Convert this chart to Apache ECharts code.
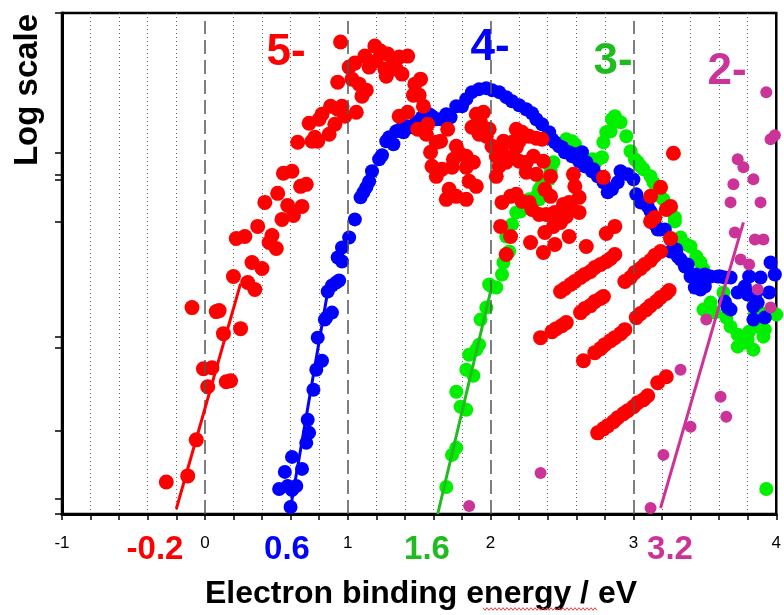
<!DOCTYPE html>
<html><head><meta charset="utf-8">
<script src="https://cdn.jsdelivr.net/npm/echarts@6/dist/echarts.min.js"></script>
<style>html,body{margin:0;padding:0;background:#fff}#c{width:784px;height:615px}</style>
</head><body><div id="c"></div>
<script>
// x: electron binding energy (eV); y: log10 intensity (arbitrary units, axis unlabelled)
const xTickLabels = ['-1','0','1','2','3','4'];
const yTickValues = [0, 0.15, 0.83, 1.66, 1.77, 2.92, 3.34, 3.39, 3.61, 5];
const integerGrid = [0, 1, 2, 3];

const red5 = [
[-0.27,0.32],[-0.12,0.38],[-0.06,0.74],[0.02,1.27],[-0.01,1.45],[0.05,1.46],[0.15,1.32],[0.18,1.33],[0.13,1.80],[0.25,1.85],[-0.09,2.06],[0.08,2.02],[0.10,2.03],[0.20,2.37],[0.30,2.31],[0.35,2.24],[0.33,2.51],[0.40,2.45],[0.22,2.75],[0.28,2.77],[0.37,2.87],[0.45,2.71],[0.47,2.78],[0.50,2.65],[0.42,3.11],[0.54,2.94],[0.51,3.20],[0.58,3.08],[0.62,2.98],[0.55,3.40],[0.61,3.42],[0.67,3.27],[0.71,3.29],[0.68,3.07],
[0.65,3.71],[0.73,3.90],[0.75,3.72],[0.77,3.76],[0.79,3.72],[0.80,3.94],[0.82,3.99],[0.88,4.07],[0.87,3.79],[0.91,3.89],[0.98,3.97],[1.06,4.01],[0.93,4.04],[0.96,4.07],[0.93,4.31],[1.03,4.34],[1.08,4.29],[1.13,4.23],[1.10,4.17],[0.95,4.71],[1.01,4.46],[1.05,4.50],[1.12,4.57],[1.19,4.67],[1.23,4.62],[1.28,4.59],[1.15,4.46],[1.20,4.52],[1.26,4.44],[1.27,4.37],[1.32,4.52],[1.36,4.56],[1.42,4.57],[1.38,4.39],[1.34,4.44],[1.47,4.29],[1.51,4.34],[1.46,4.18],[1.50,4.18],[1.53,4.07],
[1.36,3.97],[1.42,4.01],[1.49,3.84],[1.56,3.89],[1.55,3.79],[1.70,3.84],[1.62,3.71],[1.65,3.72],[1.58,3.61],[1.76,3.67],[1.79,3.59],[1.74,3.54],[1.83,3.57],[1.88,3.51],[1.83,3.46],[1.59,3.47],[1.62,3.37],[1.66,3.44],[1.73,3.46],[1.85,3.32],[1.90,3.27],[1.71,3.24],[1.69,3.14],[1.76,3.17],[1.83,3.14],
[1.90,3.99],[1.95,4.01],[1.93,3.91],[1.99,3.84],[1.87,3.86],[1.92,3.79],[1.97,3.77],[2.01,3.67],[2.04,3.57],[2.08,3.61],[2.06,3.47],[2.11,3.51],[2.04,3.37],[2.09,3.72],[2.15,3.71],[2.18,3.66],[2.15,3.56],[2.18,3.84],[2.22,3.81],[2.27,3.77],[2.32,3.75],[2.20,3.72],[2.20,3.52],[2.25,3.51],[2.30,3.57],[2.37,3.52],[2.32,3.39],[2.25,3.41],[2.42,3.37],[2.36,3.74],
[2.08,3.11],[2.14,3.17],[2.18,3.19],[2.22,3.12],[2.27,3.11],[2.29,3.04],[2.34,2.99],[2.07,2.87],[2.14,2.77],[2.11,2.59],[2.28,2.71],[2.37,2.61],[2.38,2.81],[2.45,2.69],[2.38,3.24],[2.42,3.17],[2.39,2.99],[2.45,3.01],[2.49,2.91],[2.53,2.97],[2.57,3.04],[2.62,3.01],[2.58,3.39],[2.59,3.27],[2.62,3.16],[2.55,3.11],[2.51,3.09],[2.55,2.77],[2.67,2.67],[2.79,3.36],[2.81,2.80],[2.87,2.87],[2.44,2.87],
[3.28,3.60],[3.19,3.26],[3.12,3.17],[3.26,3.07],[3.23,3.04],[3.15,2.96],[3.12,2.92],[3.26,2.75]
];
const red5Bands = [
[2.49,2.22],[2.52,2.25],[2.56,2.29],[2.59,2.32],[2.63,2.36],[2.66,2.39],[2.70,2.42],[2.73,2.46],[2.77,2.49],[2.81,2.52],[2.84,2.55],[2.87,2.59],
[2.94,2.32],[2.98,2.36],[3.01,2.41],[3.05,2.45],[3.08,2.49],[3.12,2.53],[3.15,2.58],[3.19,2.62],
[2.35,1.76],[2.43,1.82],[2.46,1.85],[2.50,1.88],[2.53,1.91],[2.63,2.01],[2.66,2.05],[2.70,2.08],[2.73,2.12],[2.77,2.15],[2.79,2.17],
[3.02,1.96],[3.05,2.00],[3.09,2.04],[3.12,2.08],[3.16,2.12],[3.19,2.16],[3.23,2.20],[3.25,2.23],
[2.65,1.53],[2.73,1.61],[2.77,1.65],[2.80,1.69],[2.84,1.73],[2.87,1.76],[2.91,1.80],[2.94,1.84],
[2.75,0.81],[2.79,0.85],[2.82,0.88],[2.86,0.92],[2.89,0.96],[2.93,1.00],[2.96,1.03],[3.00,1.07],[3.03,1.11],[3.07,1.14],[3.10,1.18],[3.17,1.31],[3.23,1.37]
];
const blue4 = [
[0.60,0.07],[0.52,0.25],[0.58,0.28],[0.64,0.28],[0.61,0.24],[0.56,0.42],[0.68,0.45],[0.61,0.57],[0.73,0.81],[0.71,0.71],[0.72,0.94],[0.76,1.24],[0.78,1.44],[0.82,1.53],[0.79,1.76],[0.85,1.96],[0.89,2.01],[0.84,1.94],[0.86,2.22],[0.89,2.28],[0.94,2.33],[0.92,2.31],[0.96,2.52],[0.93,2.56],[0.96,2.66],[1.01,2.76],[1.05,2.94],[1.09,3.16],[1.11,3.21],[1.13,3.26],[1.15,3.32],[1.17,3.42],[1.22,3.54],[1.24,3.58],[1.27,3.72],[1.29,3.76],[1.32,3.69],[1.34,3.82],[1.37,3.84],[1.41,3.87],[1.39,3.81],[1.44,3.86],[1.48,3.91],[1.52,3.96],[1.57,3.99],[1.59,3.97],[1.62,3.94],[1.65,3.94],[1.69,3.99],[1.72,3.96],[1.76,4.07],[1.80,4.07],[1.83,4.14],[1.87,4.21],[1.92,4.24],[1.97,4.25],[2.01,4.23],[2.06,4.21],[2.11,4.16],[2.15,4.12],[2.20,4.08],[2.25,4.04],[2.29,4.00],[2.32,3.94],[2.36,3.89],[2.41,3.81],[2.43,3.74],[2.45,3.71],[2.48,3.67],[2.50,3.66],[2.52,3.61],[2.55,3.61],[2.57,3.57],[2.59,3.59],[2.62,3.52],[2.64,3.61],[2.66,3.47],[2.67,3.51],[2.71,3.42],[2.72,3.44],[2.75,3.37],[2.79,3.31],[2.82,3.21],[2.85,3.24],[2.89,3.31],[2.91,3.42],[2.96,3.39],[3.00,3.34],[3.02,3.19],[3.05,3.11],[3.10,3.07],[3.12,3.02],[3.15,2.89],[3.17,2.84],[3.19,2.84],[3.22,2.84],[3.26,2.74],[3.26,2.62],[3.30,2.64],[3.31,2.57],[3.33,2.54],[3.36,2.47],[3.38,2.49],[3.40,2.37],[3.44,2.39],[3.45,2.34],[3.47,2.24],[3.50,2.39],[3.52,2.36],[3.54,2.37],[3.59,2.37],[3.61,2.37],[3.64,2.36],[3.68,2.36],[3.43,2.26],[3.50,2.27],[3.64,2.12],[3.66,2.06],[3.68,2.04],[3.73,2.21],[3.78,2.27],[3.80,2.19],[3.84,2.07],[3.81,2.37],[3.89,2.36],[3.96,2.51],[3.99,2.39],[3.95,2.21],[3.86,2.21],[3.87,2.11],[3.84,1.94],[3.92,1.96]
];
const green3 = [
[1.69,0.27],[1.73,0.59],[1.76,0.66],[1.79,1.07],[1.83,1.04],[1.76,1.22],[1.83,1.44],[1.88,1.38],[1.85,1.59],[1.90,1.64],[1.92,1.69],[1.93,1.94],[1.97,2.06],[1.99,2.29],[2.01,2.27],[2.04,2.26],[2.08,2.39],[2.09,2.51],[2.13,2.62],[2.11,2.77],[2.15,2.89],[2.18,3.01],[2.21,3.02],[2.27,3.14],[2.32,3.17],[2.34,3.24],[2.36,3.29],[2.41,3.34],[2.42,3.42],[2.44,3.51],[2.52,3.71],[2.57,3.72],[2.59,3.69],[2.53,3.74],[2.71,3.54],[2.74,3.52],[2.78,3.56],[2.79,3.71],[2.81,3.81],[2.84,3.82],[2.85,3.94],[2.87,3.97],[2.91,3.91],[2.95,3.77],[2.98,3.62],[3.01,3.54],[3.03,3.51],[3.05,3.47],[3.07,3.44],[3.12,3.37],[3.14,3.31],[3.16,3.26],[3.19,3.17],[3.21,3.14],[3.26,3.04],[3.29,2.96],[3.29,2.92],[3.33,2.76],[3.37,2.69],[3.40,2.67],[3.44,2.57],[3.47,2.51],[3.49,2.44],[3.54,2.11],[3.49,2.04],[3.57,2.01],[3.65,1.96],[3.68,1.87],[3.73,1.79],[3.73,1.67],[3.78,1.71],[3.80,1.74],[3.84,1.64],[3.81,1.82],[3.87,1.87],[3.91,1.77],[3.92,1.84],[3.85,1.99],[3.89,2.01],[4.00,1.99],[3.63,2.21],[3.93,0.25],[2.34,3.14]
];
const magenta2 = [
[3.93,4.21],[3.96,3.74],[3.99,3.78],[3.73,3.54],[3.77,3.46],[3.84,3.34],[3.70,3.29],[3.68,3.11],[3.89,3.11],[3.71,2.81],[3.85,2.74],[3.91,2.74],[3.75,2.54],[3.81,2.49],[3.87,2.24],[3.96,2.06],[3.51,1.94],[3.33,1.44],[3.61,1.17],[3.65,0.97],[3.40,0.87],[3.21,0.59],[3.12,0.06],[2.35,0.41],[1.85,0.08]
];
const fitRed = [[-0.20,0.05],[0.25,2.30]];
const fitBlue = [[0.60,0.06],[0.86,2.22]];
const fitGreen = [[1.63,0.00],[2.00,2.22]];
const fitMagenta = [[3.19,0.06],[3.77,2.91]];
const onsetLabels = ['-0.2','0.6','1.6','3.2'];
const chargeLabels = ['5-','4-','3-','2-'];

const FONT = '"Liberation Sans", Arial, sans-serif';
const C_RED = '#ff0000', C_BLUE = '#0000ff', C_GREEN = '#00f000', C_GREEN_D = '#1fbb1f', C_MAG = '#cc3399';

const chart = echarts.init(document.getElementById('c'), null, {renderer: 'canvas'});

function txt(text, x, y, color, size, extra, weight) {
  return Object.assign({
    type: 'text', x: x, y: y, z: 100,
    style: {text: text, x: 0, y: 0, fill: color, font: (weight || 'bold') + ' ' + size + 'px ' + FONT,
            align: 'center', verticalAlign: 'middle', textAlign: 'center', textVerticalAlign: 'middle'}
  }, extra || {});
}
// wavy spell-check underline (decoration)
const wave = [];
let k = 0;
for (let px = 483; px <= 598; px += 2, k++) wave.push([px, 609 + (k % 2 === 0 ? -1.3 : 1.3)]);

const option = {
  animation: false,
  backgroundColor: '#fff',
  grid: {left: 62, right: 5, top: 13, bottom: 101, show: true, borderColor: '#000', borderWidth: 2.5},
  xAxis: {
    type: 'value', min: -1, max: 4, interval: 1,
    axisLine: {onZero: false, lineStyle: {color: '#000', width: 3}},
    axisTick: {show: true, length: 6, lineStyle: {color: '#000', width: 1.5}},
    minorTick: {show: true, splitNumber: 5, length: 6, lineStyle: {color: '#000', width: 1.5}},
    axisLabel: {color: '#000', fontSize: 17, margin: 21, fontFamily: FONT,
      formatter: function (v) { const i = Math.round(v + 1); return xTickLabels[i] !== undefined ? xTickLabels[i] : ''; }},
    splitLine: {show: false},
    minorSplitLine: {show: true, lineStyle: {color: '#666', type: [1, 3], width: 1}}
  },
  yAxis: {
    type: 'value', min: 0, max: 5,
    axisLine: {onZero: false, lineStyle: {color: '#000', width: 3}},
    axisTick: {show: true, length: 7, customValues: yTickValues, lineStyle: {color: '#000', width: 1.5}},
    axisLabel: {show: false},
    splitLine: {show: false}
  },
  series: [
    {type: 'scatter', data: [], silent: true, z: 1,
     markLine: {silent: true, symbol: 'none', label: {show: false},
       lineStyle: {color: '#555', type: [14, 6], width: 1.5},
       data: integerGrid.map(v => [{coord: [v, 0]}, {coord: [v, 4.92]}])}},
    {name: '3-', type: 'scatter', data: green3, symbolSize: 14, itemStyle: {color: C_GREEN, opacity: 1}, z: 2},
    {name: '4-', type: 'scatter', data: blue4, symbolSize: 14, itemStyle: {color: C_BLUE, opacity: 1}, z: 3},
    {name: '5-', type: 'scatter', data: red5.concat(red5Bands), symbolSize: 15, itemStyle: {color: C_RED, opacity: 1}, z: 4},
    {name: '2-', type: 'scatter', data: magenta2, symbolSize: 12, itemStyle: {color: C_MAG, opacity: 1}, z: 5},
    {type: 'line', data: fitRed, showSymbol: false, lineStyle: {color: C_RED, width: 3}, z: 6},
    {type: 'line', data: fitBlue, showSymbol: false, lineStyle: {color: C_BLUE, width: 3}, z: 6},
    {type: 'line', data: fitGreen, showSymbol: false, lineStyle: {color: C_GREEN_D, width: 3}, z: 6},
    {type: 'line', data: fitMagenta, showSymbol: false, lineStyle: {color: C_MAG, width: 3}, z: 6}
  ],
  graphic: [
    txt('Log scale', 28, 90, '#000', 33, {rotation: Math.PI / 2}),
    txt('Electron binding energy / eV', 421, 594, '#000', 32),
    txt(onsetLabels[0], 155, 550, C_RED, 33),
    txt(onsetLabels[1], 287, 550, C_BLUE, 33),
    txt(onsetLabels[2], 427, 550, C_GREEN_D, 33),
    txt(onsetLabels[3], 670, 550, C_MAG, 33),
    txt(chargeLabels[0], 286, 53, C_RED, 44),
    txt(chargeLabels[1], 490, 48, C_BLUE, 44),
    txt(chargeLabels[2], 613, 62, C_GREEN_D, 44),
    txt(chargeLabels[3], 727, 72, C_MAG, 44),
    {type: 'polyline', shape: {points: wave}, style: {stroke: '#e04040', lineWidth: 1, fill: null}, z: 100}
  ]
};
chart.setOption(option);
</script></body></html>
